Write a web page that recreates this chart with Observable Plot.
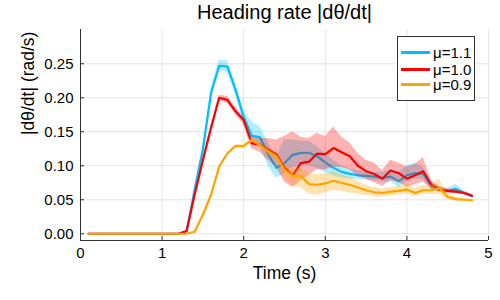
<!DOCTYPE html>
<html><head><meta charset="utf-8">
<script src="https://cdn.jsdelivr.net/npm/d3@7"></script>
<script src="https://cdn.jsdelivr.net/npm/@observablehq/plot@0.6"></script>
<style>
body{margin:0;background:#fff;}
#wrap{position:relative;width:500px;height:300px;font-family:"Liberation Sans",Arial,sans-serif;}
#legend{position:absolute;left:397px;top:36px;width:78px;height:65px;border:1px solid #333;background:#fff;box-sizing:border-box;}
.row{position:absolute;left:3px;height:16px;display:flex;align-items:center;font-size:15px;color:#000;white-space:nowrap;}
.sw{width:29px;height:0;border-top:3px solid;margin-right:3px;}
</style></head>
<body><div id="wrap"></div>
<script>
const title = "Heading rate |dθ/dt|";
const xLabel = "Time (s)";
const yLabel = "|dθ/dt| (rad/s)";
const xTicks = [0, 1, 2, 3, 4, 5];
const yTicks = [0, 0.05, 0.10, 0.15, 0.20, 0.25];
const yDomain = [-0.0099, 0.3004];
const xDomain = [0, 5];

const time = [0.1,0.2,0.3,0.4,0.5,0.6,0.7,0.8,0.9,1.0,1.1,1.2,1.3,1.4,1.5,1.6,1.7,1.8,1.9,2.0,2.1,2.2,2.3,2.4,2.5,2.6,2.7,2.8,2.9,3.0,3.1,3.2,3.3,3.4,3.5,3.6,3.7,3.8,3.9,4.0,4.1,4.2,4.3,4.4,4.5,4.6,4.7,4.8];

const seriesNames = ["μ=1.1", "μ=1.0", "μ=0.9"];
const seriesColors = ["#00bfff", "#ff0000", "#ffa500"];

// μ=1.1
const mu11 = [0,0,0,0,0,0,0,0,0,0,0,0,
  0.003,0.065,0.124,0.207,0.247,0.246,0.212,0.172,0.144,0.142,0.117,0.097,0.104,0.116,0.119,0.119,0.114,0.105,0.097,0.091,0.088,0.086,0.085,0.084,0.082,0.084,0.077,0.086,0.089,0.088,0.070,0.065,0.063,0.066,0.060,0.055];
const mu11Lo = [0,0,0,0,0,0,0,0,0,0,0,0,
  0.002,0.060,0.118,0.200,0.240,0.238,0.204,0.162,0.132,0.128,0.100,0.082,0.088,0.098,0.100,0.100,0.096,0.090,0.085,0.082,0.080,0.080,0.079,0.078,0.076,0.076,0.068,0.076,0.080,0.080,0.064,0.061,0.059,0.060,0.057,0.053];
const mu11Hi = [0,0,0,0,0,0,0,0,0,0,0,0,
  0.004,0.070,0.130,0.214,0.255,0.254,0.220,0.180,0.164,0.158,0.134,0.112,0.138,0.138,0.136,0.136,0.128,0.118,0.108,0.100,0.096,0.093,0.091,0.090,0.090,0.094,0.090,0.100,0.104,0.098,0.076,0.069,0.067,0.073,0.063,0.057];

// μ=1.0
const mu10 = [0,0,0,0,0,0,0,0,0,0,0,0,
  0.004,0.058,0.108,0.156,0.200,0.197,0.180,0.167,0.133,0.131,0.124,0.117,0.097,0.086,0.104,0.106,0.118,0.117,0.126,0.120,0.114,0.100,0.092,0.088,0.081,0.093,0.089,0.081,0.086,0.092,0.072,0.065,0.063,0.062,0.060,0.056];
const mu10Lo = [0,0,0,0,0,0,0,0,0,0,0,0,
  0.003,0.055,0.104,0.152,0.196,0.192,0.175,0.160,0.125,0.120,0.108,0.098,0.076,0.068,0.078,0.086,0.094,0.094,0.098,0.098,0.094,0.085,0.080,0.075,0.070,0.078,0.076,0.068,0.072,0.076,0.066,0.061,0.060,0.059,0.058,0.054];
const mu10Hi = [0,0,0,0,0,0,0,0,0,0,0,0,
  0.005,0.061,0.112,0.160,0.204,0.202,0.186,0.172,0.142,0.140,0.140,0.138,0.143,0.150,0.142,0.140,0.148,0.143,0.157,0.142,0.134,0.118,0.108,0.104,0.093,0.108,0.104,0.098,0.102,0.112,0.078,0.069,0.066,0.065,0.062,0.058];

// μ=0.9
const mu09 = [0,0,0,0,0,0,0,0,0,0,0,0,
  0.000,0.003,0.028,0.057,0.099,0.118,0.129,0.129,0.138,0.130,0.121,0.114,0.094,0.085,0.085,0.073,0.072,0.074,0.078,0.075,0.072,0.068,0.064,0.061,0.060,0.062,0.063,0.065,0.060,0.064,0.064,0.067,0.054,0.051,0.050,0.049];
const mu09Lo = [0,0,0,0,0,0,0,0,0,0,0,0,
  0.000,0.002,0.026,0.055,0.097,0.116,0.127,0.126,0.135,0.127,0.116,0.108,0.084,0.070,0.068,0.058,0.057,0.060,0.064,0.062,0.060,0.058,0.056,0.054,0.054,0.056,0.057,0.058,0.055,0.058,0.058,0.058,0.050,0.048,0.048,0.047];
const mu09Hi = [0,0,0,0,0,0,0,0,0,0,0,0,
  0.000,0.004,0.030,0.059,0.101,0.120,0.131,0.132,0.141,0.133,0.126,0.118,0.102,0.096,0.097,0.088,0.087,0.088,0.091,0.087,0.083,0.077,0.071,0.068,0.066,0.068,0.070,0.073,0.067,0.071,0.071,0.080,0.059,0.054,0.052,0.051];

const series = [
  {name: seriesNames[0], color: seriesColors[0], mean: mu11, lo: mu11Lo, hi: mu11Hi},
  {name: seriesNames[1], color: seriesColors[1], mean: mu10, lo: mu10Lo, hi: mu10Hi},
  {name: seriesNames[2], color: seriesColors[2], mean: mu09, lo: mu09Lo, hi: mu09Hi}
];

const seriesMarks = series.flatMap(s => {
  const rows = time.map((t, i) => ({t, m: s.mean[i], lo: s.lo[i], hi: s.hi[i]}));
  return [
    Plot.areaY(rows, {x: "t", y1: "lo", y2: "hi", fill: s.color, fillOpacity: 0.3}),
    Plot.lineY(rows, {x: "t", y: "m", stroke: s.color, strokeWidth: 2.2, strokeLinejoin: "round"})
  ];
});

const axisColor = "#333";
const chart = Plot.plot({
  width: 500, height: 300,
  marginLeft: 80, marginRight: 12, marginTop: 29, marginBottom: 60,
  x: {domain: xDomain, label: null},
  y: {domain: yDomain, label: null},
  style: {fontFamily: '"Liberation Sans", Arial, sans-serif', fontSize: "15px", color: "#000", background: "#fff"},
  marks: [
    Plot.gridX(xTicks, {stroke: "#000", strokeOpacity: 0.1}),
    Plot.gridY(yTicks, {stroke: "#000", strokeOpacity: 0.1}),
    ...seriesMarks,
    Plot.ruleX([xDomain[0]], {stroke: axisColor, strokeWidth: 1}),
    Plot.ruleY([yDomain[0]], {stroke: axisColor, strokeWidth: 1}),
    Plot.axisX(xTicks, {tickSize: 4, dy: -4, tickFormat: () => "", label: null, stroke: axisColor}),
    Plot.axisX(xTicks, {tickSize: 0, tickPadding: 7, label: null, fontSize: 15}),
    Plot.axisY(yTicks, {tickSize: 4, dx: 4, tickFormat: () => "", label: null, stroke: axisColor}),
    Plot.axisY(yTicks, {tickSize: 0, tickPadding: 7, tickFormat: d3.format(".2f"), label: null, fontSize: 15}),
    Plot.text([title], {frameAnchor: "top", dy: -17, fontSize: 20, text: d => d, lineAnchor: "middle"}),
    Plot.text([xLabel], {frameAnchor: "bottom", dy: 33, fontSize: 17.5, text: d => d, lineAnchor: "middle"}),
    Plot.text([yLabel], {frameAnchor: "left", dx: -52, rotate: -90, fontSize: 17.5, text: d => d, lineAnchor: "middle"})
  ]
});

const wrap = document.getElementById("wrap");
wrap.appendChild(chart);

const legend = document.createElement("div");
legend.id = "legend";
const rowTops = [7, 24, 39.5];
series.forEach((s, i) => {
  const row = document.createElement("div");
  row.className = "row";
  row.style.top = rowTops[i] + "px";
  const sw = document.createElement("span");
  sw.className = "sw";
  sw.style.borderTopColor = s.color;
  const tx = document.createElement("span");
  tx.textContent = s.name;
  row.appendChild(sw);
  row.appendChild(tx);
  legend.appendChild(row);
});
wrap.appendChild(legend);
</script>
</body></html>
